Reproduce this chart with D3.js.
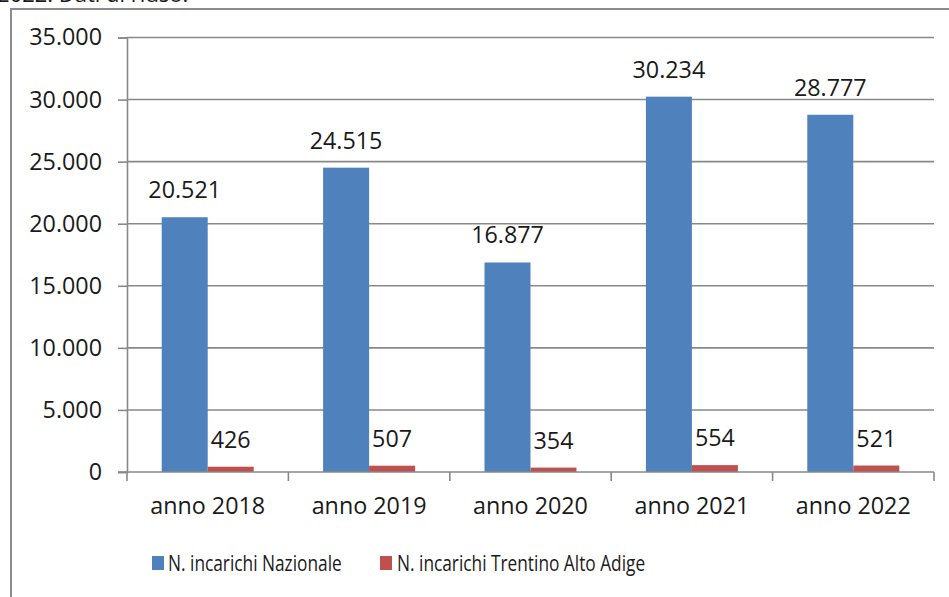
<!DOCTYPE html>
<html>
<head>
<meta charset="utf-8">
<script src="https://cdn.jsdelivr.net/npm/d3@7"></script>
<style>
  html, body { margin: 0; padding: 0; background: #fff; }
  svg { display: block; }
  text { font-family: "Open Sans", Lato, sans-serif; fill: #1a1a1a; }
</style>
</head>
<body>
<svg id="chart" width="949" height="597"></svg>
<script>
// Incarichi per anno: Italia e Trentino Alto Adige
const categories = ["anno 2018", "anno 2019", "anno 2020", "anno 2021", "anno 2022"];
const nazionale = [20521, 24515, 16877, 30234, 28777];
const trentino = [426, 507, 354, 554, 521];
const seriesNames = ["N. incarichi Nazionale", "N. incarichi Trentino Alto Adige"];
const seriesColors = ["#4F81BD", "#C0504D"];
const yTicks = [0, 5000, 10000, 15000, 20000, 25000, 30000, 35000];

const svg = d3.select("#chart");
const W = 949, H = 597;
const plot = { left: 127, right: 934, top: 37.5, bottom: 472 };
const fontSize = 23.3;
const legendFont = 22;
const gridColor = "#898989";

// Italian-style thousands separator
const fmt = d3.formatLocale({ decimal: ",", thousands: ".", grouping: [3], currency: ["€", ""] }).format(",d");

// caption line above the frame (mostly out of view)
svg.append("text")
  .attr("x", -3).attr("y", 2)
  .attr("font-size", 22)
  .text("2022. Dati di riuso.");

// outer frame
svg.append("rect")
  .attr("x", 11).attr("y", 9)
  .attr("width", W + 20).attr("height", H + 20)
  .attr("fill", "none")
  .attr("stroke", "#8c8c8c")
  .attr("stroke-width", 2);

const x = d3.scaleBand().domain(categories).range([plot.left, plot.right]).padding(0);
const y = d3.scaleLinear().domain([0, 35000]).range([plot.bottom, plot.top]);

const barW = x.bandwidth() * 0.285;
const groupOffset = (x.bandwidth() - 2 * barW) / 2;

// horizontal gridlines
svg.append("g")
  .selectAll("line")
  .data(yTicks.filter(d => d > 0))
  .join("line")
  .attr("x1", plot.left).attr("x2", plot.right)
  .attr("y1", d => y(d)).attr("y2", d => y(d))
  .attr("stroke", gridColor).attr("stroke-width", 1.6);

// y axis
const yAxis = svg.append("g")
  .attr("transform", `translate(${plot.left},0)`)
  .call(d3.axisLeft(y).tickValues(yTicks).tickFormat(fmt).tickSize(9).tickPadding(16));
yAxis.select(".domain").attr("stroke", gridColor).attr("stroke-width", 1.6);
yAxis.selectAll(".tick line").attr("stroke", gridColor).attr("stroke-width", 1.6);
yAxis.selectAll(".tick text")
  .attr("font-size", fontSize)
  .attr("font-family", "'Open Sans', Lato, sans-serif")
  .attr("fill", "#1a1a1a");

// bars
const series = [nazionale, trentino];
series.forEach((vals, si) => {
  const g = svg.append("g");
  g.selectAll("rect")
    .data(vals)
    .join("rect")
    .attr("x", (d, i) => x(categories[i]) + groupOffset + si * barW)
    .attr("y", d => y(d))
    .attr("width", barW)
    .attr("height", d => y(0) - y(d))
    .attr("fill", seriesColors[si]);
  g.selectAll("text")
    .data(vals)
    .join("text")
    .attr("x", (d, i) => x(categories[i]) + groupOffset + si * barW + barW / 2)
    .attr("y", d => y(d) - 19)
    .attr("text-anchor", "middle")
    .attr("font-size", fontSize)
    .text(d => fmt(d));
});

// x axis
const xAxis = svg.append("g")
  .attr("transform", `translate(0,${plot.bottom})`)
  .call(d3.axisBottom(x).tickSize(0).tickPadding(25));
xAxis.select(".domain").remove();
xAxis.append("line")
  .attr("x1", plot.left - 9).attr("x2", plot.right)
  .attr("stroke", gridColor).attr("stroke-width", 1.6);
xAxis.selectAll(".edge")
  .data(d3.range(categories.length + 1))
  .join("line")
  .attr("class", "edge")
  .attr("x1", i => plot.left + i * x.step()).attr("x2", i => plot.left + i * x.step())
  .attr("y1", 0).attr("y2", 9)
  .attr("stroke", gridColor).attr("stroke-width", 1.6);
xAxis.selectAll(".tick text")
  .attr("font-size", fontSize)
  .attr("font-family", "'Open Sans', Lato, sans-serif")
  .attr("fill", "#1a1a1a");

// legend (text condensed horizontally)
const legendPos = [{ mx: 152, tx: 168 }, { mx: 380, tx: 397 }];
const legend = svg.append("g");
seriesNames.forEach((name, i) => {
  legend.append("rect")
    .attr("x", legendPos[i].mx).attr("y", 556)
    .attr("width", 12).attr("height", 14)
    .attr("fill", seriesColors[i]);
  legend.append("text")
    .attr("transform", `translate(${legendPos[i].tx},571) scale(0.786,1)`)
    .attr("font-size", legendFont)
    .text(name);
});
</script>
</body>
</html>
